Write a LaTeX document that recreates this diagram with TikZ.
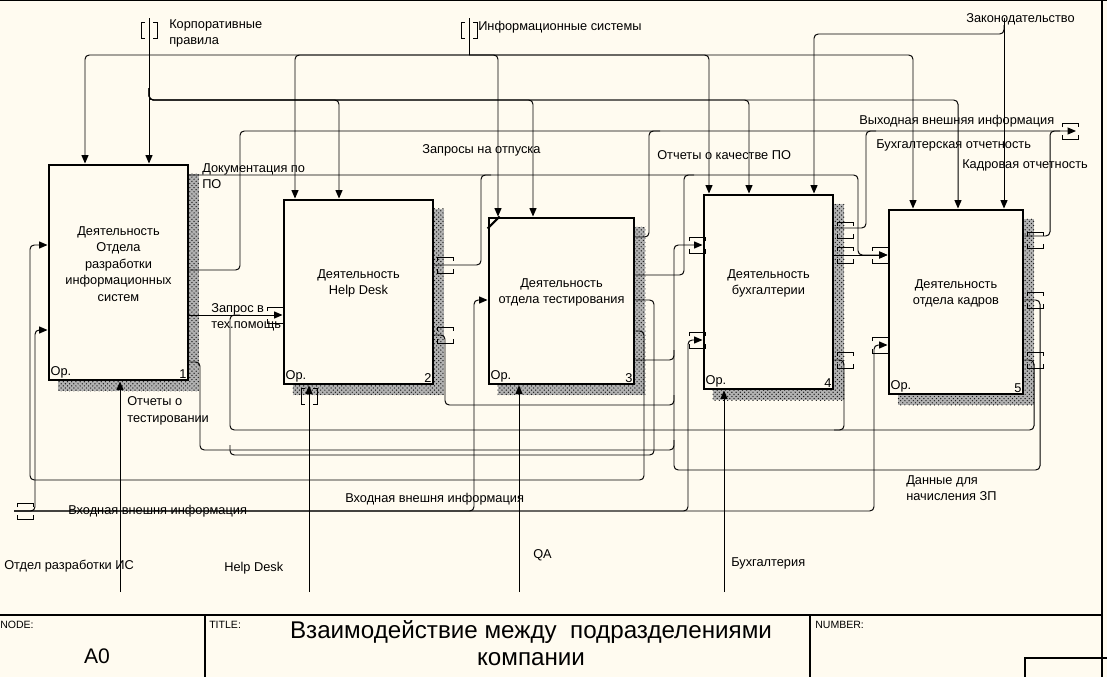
\documentclass[tikz,border=0pt]{standalone}
\usepackage{fontspec}
\setmainfont{Liberation Sans}
\usetikzlibrary{arrows.meta,fit,patterns,backgrounds}
\definecolor{paper}{RGB}{255,251,240}
\newcommand\lblsize{\fontsize{9.1}{11.8}\selectfont}
% tunnel brackets round an arrow end
\newcommand\tunH[2]{%
  \draw[tun] (#1-8,#2-4) -- (#1-8,#2-8) -- (#1+8,#2-8) -- (#1+8,#2-4)
             (#1-8,#2+4) -- (#1-8,#2+8) -- (#1+8,#2+8) -- (#1+8,#2+4);}
\newcommand\tunV[2]{%
  \draw[tun] (#1-4,#2-8) -- (#1-8,#2-8) -- (#1-8,#2+8) -- (#1-4,#2+8)
             (#1+4,#2-8) -- (#1+8,#2-8) -- (#1+8,#2+8) -- (#1+4,#2+8);}
\tikzset{
  >={Triangle[length=6pt,width=5pt]},
  actbox/.style={draw, line width=2.1pt, fill=paper, inner sep=0pt},
  boxtxt/.style={font=\lblsize, align=center},
  corner/.style={font=\lblsize, inner sep=2pt},
  boxshade/.style={fill=black!30, postaction={pattern=crosshatch dots, pattern color=black!90}},
  arr/.style={->, line width=0.7pt, rounded corners=3pt},
  ln/.style={line width=0.7pt, rounded corners=3pt},
  tun/.style={line width=0.7pt},
  lbl/.style={font=\lblsize, anchor=west, align=left, inner sep=0pt}
}
\begin{document}
\begin{tikzpicture}[x=0.025cm, y=-0.025cm]
\useasboundingbox (0,0) rectangle (1107,677);
\begin{scope}[on background layer]
  \fill[paper] (0,0) rectangle (1107,677);
\end{scope}

% --- frame and title block ---
\draw[line width=1.2pt] (0,0.5) -- (1107,0.5);
\draw[line width=0.8pt] (1102,0) -- (1102,677);
\draw[line width=0.8pt] (0,615) -- (1102,615) (205,615) -- (205,677) (810,615) -- (810,677)
  (1025,677) |- (1107,658);
\node[font=\fontsize{7.5}{9}\selectfont, anchor=west, inner sep=0pt] (tNode) at (0,625) {NODE:};
\node[font=\fontsize{7.5}{9}\selectfont, anchor=west, inner sep=0pt] (tTitle) at (209,625) {TITLE:};
\node[font=\fontsize{7.5}{9}\selectfont, anchor=west, inner sep=0pt] (tNumber) at (815,625) {NUMBER:};
\node[font=\fontsize{15}{17}\selectfont] (tA0) at (97,656) {A0};
\node[font=\fontsize{17.2}{19}\selectfont, align=center] (tName) at (531,643)
  {Взаимодействие между\ \ подразделениями\\компании};

% --- activity boxes ---
\node[actbox, fit={(49,165) (188,380)}] (b1) {};
\node[actbox, fit={(284,200) (433,384)}] (b2) {};
\node[actbox, fit={(489,218) (634,384)}] (b3) {};
\node[actbox, fit={(704,195) (833,389)}] (b4) {};
\node[actbox, fit={(889,210) (1023,394)}] (b5) {};
\begin{scope}[on background layer]
  \foreach \b in {b1,b2,b3,b4,b5}
    \fill[boxshade] ([shift={(10,10)}]\b.north west) rectangle ([shift={(10,10)}]\b.south east);
\end{scope}
\draw[line width=1.5pt] ([shift={(0,12)}]b3.north west) -- ([shift={(12,0)}]b3.north west);

\node[boxtxt] (t1) at ([yshift=6pt]b1.center) {Деятельность\\Отдела\\разработки\\информационных\\систем};
\node[boxtxt] (t2) at ([yshift=6pt]b2.center) {Деятельность\\Help Desk};
\node[boxtxt] (t3) at ([yshift=6pt]b3.center) {Деятельность\\отдела тестирования};
\node[boxtxt] (t4) at ([yshift=6pt]b4.center) {Деятельность\\бухгалтерии};
\node[boxtxt] (t5) at ([yshift=6pt]b5.center) {Деятельность\\отдела кадров};
\foreach \b/\n in {b1/1, b2/2, b3/3, b4/4, b5/5} {
  \node[corner, anchor=south west] (op\b) at (\b.south west) {Ор.};
  \node[corner, anchor=south east] (no\b) at (\b.south east) {\n};
}

% --- controls ---
\coordinate (isTop) at (469,18);
\coordinate (krTop) at (149,18);
\coordinate (zkTop) at (1004,18);
\draw[ln] (isTop) -- (469,55);
\foreach \b/\x in {b1/85, b2/295, b3/498, b4/709, b5/913}
  \draw[arr] (469,55) -| (\b.north -| \x,0);
\draw[arr] (krTop) -- (b1.north -| krTop);
\foreach \b/\x in {b2/339, b3/533, b4/749, b5/958}
  \draw[arr] (149,88) |- (\x,100) -- (\b.north -| \x,0);
\draw[arr] (zkTop) -- (b5.north -| zkTop);
\draw[arr] (1004,25) |- (814,34) -- (b4.north -| 814,0);

% --- outputs to the boundary ---
\coordinate (outEnd) at (1076,131);
\draw[arr] (b1.east |- 0,270) -| (240,131) -- (outEnd);
\draw[ln] (b3.east |- 0,237) -| (649,131) -- (660,131);
\draw[ln] (b4.east |- 0,228) -| (866,131) -- (876,131);
\draw[ln] (b5.east |- 0,236) -| (1050,131) -- (1060,131);

% --- documentation / requests to box 5 ---
\draw[arr] (b1.east |- 0,175) -| (858,255) -- (b5.west |- 0,255);
\draw[ln] (b2.east |- 0,265) -| (481,175) -- (491,175);
\draw[ln] (b3.east |- 0,275) -| (684,175) -- (694,175);
\draw[arr] (b4.east |- 0,255) -- (b5.west |- 0,255);

% --- into box 4 ---
\draw[arr] (b5.east |- 0,300) -| (1040,470) -| (674,245) -- (b4.west |- 0,245);
\draw[ln] (b3.east |- 0,360) -| (674,350);
\draw[ln] (b2.east |- 0,335) -| (445,405) -| (674,395);
\draw[ln] (b1.east |- 0,362) -| (200,450) -| (674,440);

% --- into box 2 ---
\draw[arr] (b1.east |- 0,315) -- (b2.west |- 0,315);
\draw[ln] (b5.east |- 0,360) -| (1034,430) -| (230,315) -- (240,315);
\draw[ln] (b4.east |- 0,360) -| (844,430) -- (834,430);
\draw[ln] (b3.east |- 0,300) -| (654,455) -| (230,445);

% --- into box 1 ---
\draw[arr] (b3.east |- 0,331) -| (644,480) -| (30,245) -- (b1.west |- 0,245);

% --- external input ---
\coordinate (inStart) at (14,511);
\draw[arr] (inStart) -| (874,345) -- (b5.west |- 0,345);
\foreach \b/\x/\y in {b1/35/330, b3/474/300, b4/688/340}
  \draw[arr] (inStart) -| (\x,\y) -- (\b.west |- 0,\y);

% --- mechanisms ---
\foreach \b/\x in {b1/120, b2/309, b3/519, b4/724} {
  \coordinate (m\b) at (\x,592);
  \draw[arr] (m\b) -- (\b.south -| m\b);
}

% --- tunnels ---
\tunV{149}{30} \tunV{469}{30} \tunV{309}{396}
\tunH{275}{315} \tunH{445}{265} \tunH{445}{335}
\tunH{697}{245} \tunH{697}{340}
\tunH{845}{230} \tunH{845}{255} \tunH{845}{360}
\tunH{880}{255} \tunH{880}{345}
\tunH{1035}{240} \tunH{1035}{300} \tunH{1035}{360}
\tunH{1070}{131} \tunH{25}{511}

% --- arrow labels ---
\node[lbl] (lCorp) at (169,33.5) {Корпоративные\\правила};
\node[lbl] (lInfo) at (478,27) {Информационные системы};
\node[lbl] (lLaw) at (966,19) {Законодательство};
\node[lbl] (lOut) at (859,121) {Выходная внешняя информация};
\node[lbl] (lAcc) at (876,145) {Бухгалтерская отчетность};
\node[lbl] (lHr) at (962,165) {Кадровая отчетность};
\node[lbl] (lVac) at (422,150) {Запросы на отпуска};
\node[lbl] (lQual) at (657,155) {Отчеты о качестве ПО};
\node[lbl] (lDoc) at (202,176) {Документация по\\ПО};
\node[lbl] (lHelp) at (211,317.5) {Запрос в\\тех.помощь};
\node[lbl] (lTest) at (127,411) {Отчеты о\\тестировании};
\node[lbl] (lIn1) at (68,511) {Входная внешня информация};
\node[lbl] (lIn2) at (345,499) {Входная внешня информация};
\node[lbl] (lPay) at (906,488) {Данные для\\начисления ЗП};
\node[lbl] (lDev) at (4,566) {Отдел разработки ИС};
\node[lbl] (lHd) at (224,568) {Help Desk};
\node[lbl] (lQa) at (533,555) {QA};
\node[lbl] (lBuh) at (731,563) {Бухгалтерия};
\end{tikzpicture}
\end{document}
